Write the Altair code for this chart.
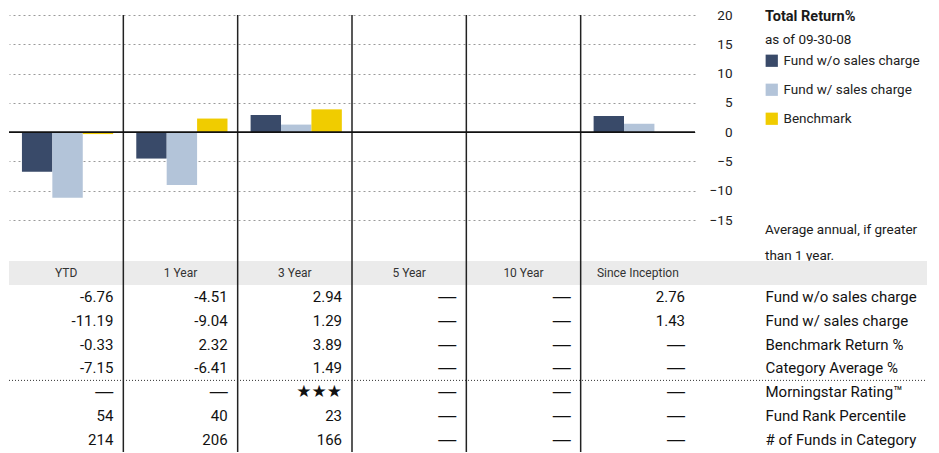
import altair as alt
import pandas as pd

FONT = "Roboto"

periods = ["YTD", "1 Year", "3 Year", "5 Year", "10 Year", "Since Inception"]
series = ["Fund w/o sales charge", "Fund w/ sales charge", "Benchmark"]
fund_wo = [-6.76, -4.51, 2.94, None, None, 2.76]
fund_w = [-11.19, -9.04, 1.29, None, None, 1.43]
benchmark = [-0.33, 2.32, 3.89, None, None, None]
category_avg = [-7.15, -6.41, 1.49, None, None, None]
rating_stars = [None, None, 3, None, None, None]
rank_pct = [54, 40, 23, None, None, None]
num_funds = [214, 206, 166, None, None, None]
row_labels = ["Fund w/o sales charge", "Fund w/ sales charge", "Benchmark Return %",
              "Category Average %", "Morningstar Rating\u2122", "Fund Rank Percentile",
              "# of Funds in Category"]
y_ticks = [-15, -10, -5, 0, 5, 10, 15, 20]
colors = ["#394a69", "#b3c4d9", "#f0cc00"]
title_text = "Total Return%"
asof_text = "as of 09-30-08"
note_lines = ["Average annual, if greater", "than 1 year."]

W = 686
H_TOP = 246
H_TAB = 191

# ---------- bar data ----------
bar_rows = []
for s, vals in zip(series, [fund_wo, fund_w, benchmark]):
    for p, v in zip(periods, vals):
        if v is not None:
            bar_rows.append({"period": p, "series": s, "value": v})
bars_df = pd.DataFrame(bar_rows)

x_scale = alt.Scale(domain=periods, paddingInner=0, paddingOuter=0)
x_enc = alt.X("period:N", scale=x_scale, axis=None, title=None)
x_left = alt.X("period:N", scale=x_scale, axis=None, title=None, bandPosition=0)

y_axis = alt.Axis(orient="right", values=y_ticks, grid=True, gridDash=[2, 3],
                  gridColor="#9a9a9a", gridWidth=1, ticks=False, domain=False,
                  labelAlign="right", labelPadding=37, labelFontSize=13.5,
                  labelFont=FONT, labelColor="#222", labelBaseline="middle", title=None)
y_scale = alt.Scale(domain=[-22, 20], nice=False, zero=False)
y_enc = alt.Y("value:Q", scale=y_scale, axis=y_axis, title=None)

bars = alt.Chart(bars_df).mark_bar(strokeWidth=0).encode(
    x=x_enc,
    xOffset=alt.XOffset("series:N", sort=series,
                        scale=alt.Scale(domain=series, paddingInner=0, paddingOuter=0.38, align=0.56)),
    y=y_enc,
    color=alt.Color("series:N", sort=series, scale=alt.Scale(domain=series, range=colors),
                    legend=alt.Legend(orient="none", legendX=756, legendY=39, title=None,
                                      symbolType="square", symbolSize=150, symbolStrokeWidth=0,
                                      labelFontSize=13.5, labelFont=FONT, labelColor="#222",
                                      rowPadding=14, labelOffset=5, padding=0)),
)

zero_line = alt.Chart(pd.DataFrame({"v": [0]})).mark_rule(color="#111", strokeWidth=1.6).encode(
    y=alt.Y("v:Q", scale=y_scale, axis=y_axis, title=None)
)

sep_df = pd.DataFrame({"period": periods[1:]})
vsep_top = alt.Chart(sep_df).mark_rule(color="#222", strokeWidth=1.5).encode(x=x_left)

def note(text, y, size=13.5, weight="normal"):
    return alt.Chart(pd.DataFrame({"t": [text]})).mark_text(
        align="left", baseline="alphabetic", font=FONT, fontSize=size,
        fontWeight=weight, color="#1a1a1a"
    ).encode(text="t:N", x=alt.value(756), y=alt.value(y))

title_mark = note(title_text, 6, 14.5, "bold")
asof_mark = note(asof_text, 29)
note1 = note(note_lines[0], 219)
note2 = note(note_lines[1], 245)

top = alt.layer(vsep_top, bars, zero_line, title_mark, asof_mark, note1, note2).properties(
    width=W, height=H_TOP
)

# ---------- table ----------
def fmt(v):
    if isinstance(v, float):
        return f"{v:.2f}"
    return str(v)

rows_domain = ["header"] + row_labels
table_rows = []
for lab, vals in zip(row_labels, [fund_wo, fund_w, benchmark, category_avg, rating_stars, rank_pct, num_funds]):
    for p, v in zip(periods, vals):
        if v is None:
            txt, kind = "\u2014", "dash"
        elif lab.startswith("Morningstar"):
            txt, kind = "\u2605" * int(v), "star"
        else:
            txt, kind = fmt(v), "num"
        table_rows.append({"period": p, "row": lab, "label": txt, "kind": kind})
table_df = pd.DataFrame(table_rows)
header_df = pd.DataFrame({"period": periods, "row": ["header"] * len(periods)})

y_tab_scale = alt.Scale(domain=rows_domain, paddingInner=0, paddingOuter=0)
y_tab_axis = alt.Axis(orient="right", labelAlign="left", labelPadding=70, ticks=False, domain=False,
                      grid=False, labelFontSize=15, labelFont=FONT, labelColor="#111",
                      labelLimit=400, labelBaseline="middle",
                      labelExpr="datum.value == 'header' ? '' : datum.value", title=None)
y_tab = alt.Y("row:N", scale=y_tab_scale, axis=y_tab_axis, title=None)
x_right = alt.X("period:N", scale=x_scale, axis=None, title=None, bandPosition=1)

band = alt.Chart(pd.DataFrame({"row": ["header"]})).mark_rect(color="#ebebeb").encode(
    y=y_tab, x=alt.value(0), x2=alt.value(918)
)
dotted = alt.Chart(pd.DataFrame({"row": [row_labels[4]]})).mark_rule(
    color="#333", strokeDash=[1, 2], strokeWidth=1
).encode(
    y=alt.Y("row:N", scale=y_tab_scale, axis=y_tab_axis, title=None, bandPosition=0),
    x=alt.value(0), x2=alt.value(918)
)
vsep_tab = alt.Chart(sep_df).mark_rule(color="#222", strokeWidth=1.5).encode(x=x_left)

header_text = alt.Chart(header_df).mark_text(
    align="center", baseline="middle", font=FONT, fontSize=12, color="#333"
).encode(x=x_enc, y=y_tab, text="period:N")

value_text = alt.Chart(table_df).transform_filter(alt.datum.kind == "num").mark_text(
    align="right", baseline="middle", font=FONT, fontSize=15, color="#111", dx=-10
).encode(x=x_right, y=y_tab, text="label:N")

dash_text = alt.Chart(table_df).transform_filter(alt.datum.kind == "dash").mark_text(
    align="right", baseline="middle", font="DejaVu Sans", fontSize=20, color="#111", dx=-9
).encode(x=x_right, y=y_tab, text="label:N")

star_text = alt.Chart(table_df).transform_filter(alt.datum.kind == "star").mark_text(
    align="right", baseline="middle", font="DejaVu Sans", fontSize=17, color="#111", dx=-10
).encode(x=x_right, y=y_tab, text="label:N")

table = alt.layer(band, dotted, vsep_tab, header_text, value_text, dash_text, star_text).properties(
    width=W, height=H_TAB
)

chart = alt.vconcat(top, table, spacing=0, bounds="flush").configure_view(
    strokeWidth=0
).properties(padding={"left": 0, "top": 0, "right": 0, "bottom": 0})

chart.save("out.html", embed_options={"renderer": "svg", "actions": False})
